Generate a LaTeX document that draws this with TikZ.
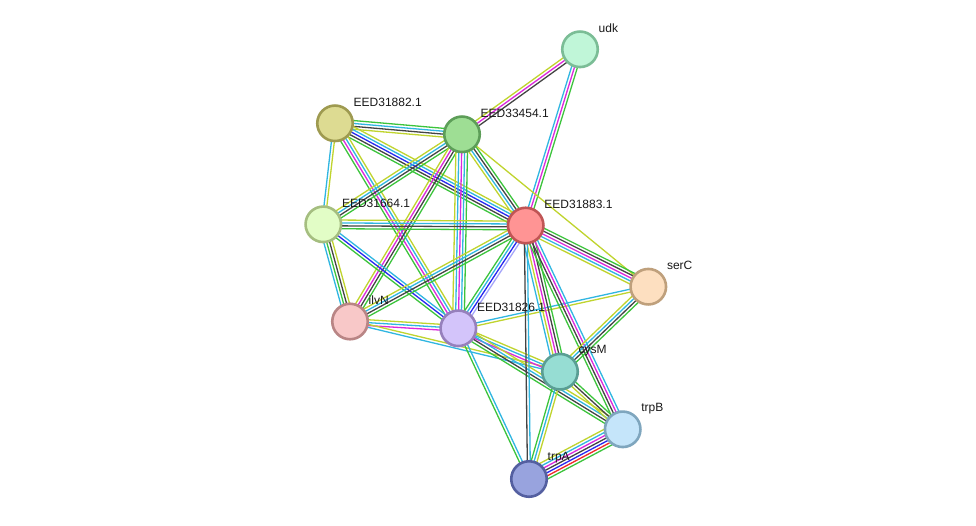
\documentclass[tikz,border=0pt]{standalone}
\usepackage{fontspec}
\setmainfont{Liberation Sans}
\usetikzlibrary{calc,backgrounds}
\definecolor{cnb}{RGB}{60,196,60}
\definecolor{cco}{RGB}{68,68,68}
\definecolor{cdb}{RGB}{48,182,225}
\definecolor{cex}{RGB}{220,40,220}
\definecolor{ctm}{RGB}{192,212,46}
\definecolor{ccooc}{RGB}{40,40,240}
\definecolor{cfu}{RGB}{240,40,40}
\definecolor{chom}{RGB}{165,165,250}
\tikzset{
  prot/.style={circle,minimum size=35.5pt,inner sep=0pt,outer sep=0pt,line width=2.6pt},
  lbl/.style={anchor=west,inner sep=0.6pt,font=\fontsize{12}{14}\selectfont,text=black!90},
  chan/.style={line width=1.3pt}
}
\newcommand\sedge[4]{%
  \foreach \c [count=\i] in {#4}{%
    \pgfmathsetmacro\off{(\i-(#3+1)/2)*2.9}%
    \draw[chan,color=\c] ($(#1)!\off pt!90:(#2)$) -- ($(#2)!\off pt!-90:(#1)$);
  }%
}
\newcommand\plabel[2]{%
  \node[lbl] (l#1) at ($(#1)+(17.9,-21)$) {#2};
}
\begin{document}
\begin{tikzpicture}[x=1pt,y=-1pt]
\useasboundingbox (0,0) rectangle (976,525);
% nodes
\node[prot,fill={rgb,255:red,192;green,246;blue,216},draw={rgb,255:red,123;green,189;blue,150}] (udk) at (580,49.3) {};
\node[prot,fill={rgb,255:red,221;green,219;blue,146},draw={rgb,255:red,158;green,154;blue,80}] (e31882) at (335,123.3) {};
\node[prot,fill={rgb,255:red,158;green,222;blue,148},draw={rgb,255:red,93;green,158;blue,88}] (e33454) at (462,134.3) {};
\node[prot,fill={rgb,255:red,226;green,253;blue,198},draw={rgb,255:red,165;green,190;blue,128}] (e31664) at (323.3,224.3) {};
\node[prot,fill={rgb,255:red,255;green,148;blue,148},draw={rgb,255:red,192;green,85;blue,85}] (e31883) at (525.7,225.5) {};
\node[prot,fill={rgb,255:red,253;green,223;blue,192},draw={rgb,255:red,191;green,160;blue,124}] (serC) at (648.3,286.7) {};
\node[prot,fill={rgb,255:red,248;green,200;blue,200},draw={rgb,255:red,185;green,133;blue,133}] (ilvN) at (350,321.5) {};
\node[prot,fill={rgb,255:red,211;green,196;blue,250},draw={rgb,255:red,150;green,128;blue,188}] (e31826) at (458.3,328.3) {};
\node[prot,fill={rgb,255:red,150;green,221;blue,211},draw={rgb,255:red,90;green,158;blue,148}] (cysM) at (560,371.7) {};
\node[prot,fill={rgb,255:red,197;green,229;blue,250},draw={rgb,255:red,127;green,166;blue,190}] (trpB) at (622.7,429.3) {};
\node[prot,fill={rgb,255:red,152;green,163;blue,222},draw={rgb,255:red,84;green,95;blue,160}] (trpA) at (529,479) {};
% labels
\plabel{udk}{udk}
\plabel{e31882}{EED31882.1}
\plabel{e33454}{EED33454.1}
\plabel{e31664}{EED31664.1}
\plabel{e31883}{EED31883.1}
\plabel{serC}{serC}
\plabel{ilvN}{ilvN}
\plabel{e31826}{EED31826.1}
\plabel{cysM}{cysM}
\plabel{trpB}{trpB}
\plabel{trpA}{trpA}
% edges
\begin{scope}[on background layer]
\fill[white] (0,0) rectangle (976,525);
\sedge{udk}{e33454}{3}{ctm,cex,cco}
\sedge{udk}{e31883}{3}{cdb,cex,cnb}
\sedge{e31882}{e33454}{4}{ctm,cco,cdb,cnb}
\sedge{e31882}{e31883}{5}{cnb,cco,ccooc,cdb,ctm}
\sedge{e31882}{e31664}{2}{cdb,ctm}
\sedge{e31882}{e31826}{4}{cnb,cex,cdb,ctm}
\sedge{e33454}{e31664}{4}{ctm,cdb,cco,cnb}
\sedge{e33454}{ilvN}{4}{ctm,cex,cco,cnb}
\sedge{e33454}{e31826}{5}{ctm,cdb,cex,cdb,cnb}
\sedge{e33454}{e31883}{4}{ctm,cdb,cco,cnb}
\sedge{e33454}{serC}{1}{ctm}
\sedge{e31664}{e31883}{4}{cnb,cco,cdb,ctm}
\sedge{e31664}{ilvN}{4}{cdb,cnb,cco,ctm}
\sedge{e31664}{e31826}{3}{cnb,ccooc,cdb}
\sedge{ilvN}{e31883}{4}{cnb,cco,cdb,ctm}
\sedge{ilvN}{e31826}{3}{cex,cdb,ctm}
\sedge{ilvN}{cysM}{2}{cdb,ctm}
\sedge{e31826}{e31883}{4}{chom,ccooc,cdb,cnb}
\sedge{e31826}{serC}{2}{ctm,cdb}
\sedge{e31826}{cysM}{3}{cex,cdb,ctm}
\sedge{e31826}{trpB}{4}{cnb,cco,cdb,ctm}
\sedge{e31826}{trpA}{2}{cnb,cdb}
\sedge{e31883}{serC}{5}{ctm,cdb,cex,cco,cnb}
\sedge{e31883}{cysM}{5}{cdb,ctm,cex,cco,cnb}
\sedge{e31883}{trpB}{4}{cnb,cco,cex,cdb}
\sedge{e31883}{trpA}{2}{cco,cdb}
\sedge{serC}{cysM}{4}{ctm,cdb,cco,cnb}
\sedge{cysM}{trpB}{3}{ctm,cco,cnb}
\sedge{cysM}{trpA}{3}{cnb,cdb,ctm}
\sedge{trpB}{trpA}{7}{ctm,cdb,cex,cco,ccooc,cfu,cnb}
\end{scope}
\end{tikzpicture}
\end{document}
